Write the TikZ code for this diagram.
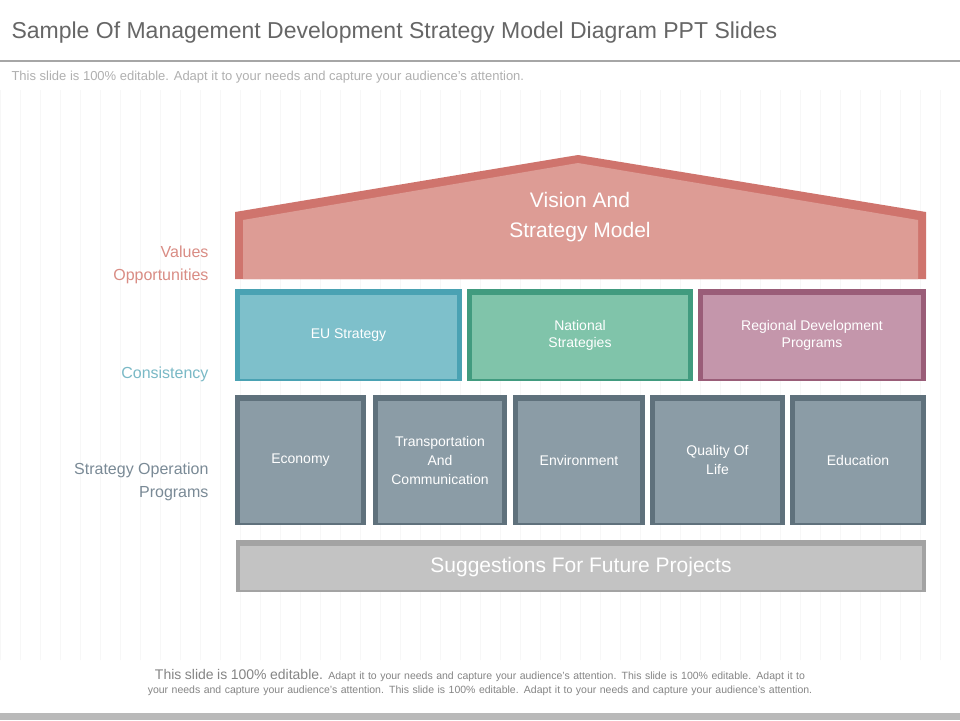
\documentclass[tikz,border=0pt]{standalone}
\usepackage{fontspec}
\setmainfont{Liberation Sans}
\definecolor{ttl}{HTML}{666666}
\definecolor{sub}{HTML}{B0B0B0}
\definecolor{roofO}{HTML}{CF746D}
\definecolor{roofI}{HTML}{DD9C95}
\definecolor{euO}{HTML}{4AA2B3}
\definecolor{euI}{HTML}{7EC0CB}
\definecolor{naO}{HTML}{419B7F}
\definecolor{naI}{HTML}{80C4AA}
\definecolor{reO}{HTML}{9A5D78}
\definecolor{reI}{HTML}{C496AB}
\definecolor{grO}{HTML}{5F717C}
\definecolor{grI}{HTML}{8B9CA6}
\definecolor{suO}{HTML}{A3A3A3}
\definecolor{suI}{HTML}{C3C3C3}
\definecolor{lv}{HTML}{D98C84}
\definecolor{lc}{HTML}{7AB9C6}
\definecolor{ls}{HTML}{7A8A96}
\tikzset{
 lbl/.style={text=white,align=center,font=\fontsize{14}{17}\selectfont},
 side/.style={anchor=east,align=right,font=\fontsize{16}{23}\selectfont},
}
\newcommand{\panel}[7]{% x1 y1 x2 y2 outer inner name
 \fill[#5] (#1,#2) rectangle (#3,#4);
 \fill[#6] (#1+5,#2+6) rectangle (#3-5,#4-2);
 \coordinate (#7) at ({(#1+#3)/2},{(#2+#4)/2});
}
\begin{document}
\begin{tikzpicture}[x=1pt,y=-1pt]
\useasboundingbox (0,0) rectangle (960,720);
\fill[white] (0,0) rectangle (960,720);
\draw[gray!6] (0,90) grid[step=20] (960,660);
\node[anchor=west,text=ttl,font=\fontsize{23}{26}\selectfont] (title) at (8,33) {Sample Of Management Development Strategy Model Diagram PPT Slides};
\fill[gray!70] (0,60) rectangle (960,62);
\node[anchor=west,text=sub,font=\fontsize{13}{15}\selectfont] (subt) at (8,77) {This slide is 100\% editable. Adapt it to your needs and capture your audience's attention.};
% roof
\fill[roofO] (235,279) -- (235,212) -- (578,155) -- (926,212) -- (926,279) -- cycle;
\fill[roofI] (243,279) -- (243,220) -- (578,163) -- (918,220) -- (918,279) -- cycle;
\node[lbl,font=\fontsize{21}{30}\selectfont] (vision) at (580,217) {Vision And\\Strategy Model};
% row 2
\panel{235}{289}{462}{381}{euO}{euI}{eu}
\panel{467}{289}{693}{381}{naO}{naI}{na}
\panel{698}{289}{926}{381}{reO}{reI}{re}
\node[lbl] (eut) at (eu) {EU Strategy};
\node[lbl] (nat) at (na) {National\\Strategies};
\node[lbl] (ret) at (re) {Regional Development\\Programs};
% row 3
\panel{235}{395}{366}{525}{grO}{grI}{b1}
\panel{373}{395}{507}{525}{grO}{grI}{b2}
\panel{513}{395}{645}{525}{grO}{grI}{b3}
\panel{650}{395}{785}{525}{grO}{grI}{b4}
\panel{790}{395}{926}{525}{grO}{grI}{b5}
\node[lbl] (t1) at (b1) {Economy};
\node[lbl,font=\fontsize{14}{19}\selectfont] (t2) at (b2) {Transportation\\And\\Communication};
\node[lbl] (t3) at (b3) {Environment};
\node[lbl,font=\fontsize{14}{19}\selectfont] (t4) at (b4) {Quality Of\\Life};
\node[lbl] (t5) at (b5) {Education};
% bottom bar
\fill[suO] (236,540) rectangle (926,592);
\fill[suI] (240,546) rectangle (922,590);
\node[lbl,font=\fontsize{21}{24}\selectfont] (sug) at (581,567) {Suggestions For Future Projects};
% side labels
\node[side,text=lv] (vo) at (212,265) {Values\\Opportunities};
\node[side,text=lc] (co) at (212,374) {Consistency};
\node[side,text=ls] (so) at (212,482) {Strategy Operation\\Programs};
% footer
\node[text=ttl!80,align=center,text width=890,font=\fontsize{10.5}{14}\selectfont] (foot) at (480,683) {{\fontsize{14}{14}\selectfont This slide is 100\% editable.} Adapt it to your needs and capture your audience's attention. This slide is 100\% editable. Adapt it to your needs and capture your audience's attention. This slide is 100\% editable. Adapt it to your needs and capture your audience's attention.};
\fill[gray!55] (0,713) rectangle (960,720);
\end{tikzpicture}
\end{document}
